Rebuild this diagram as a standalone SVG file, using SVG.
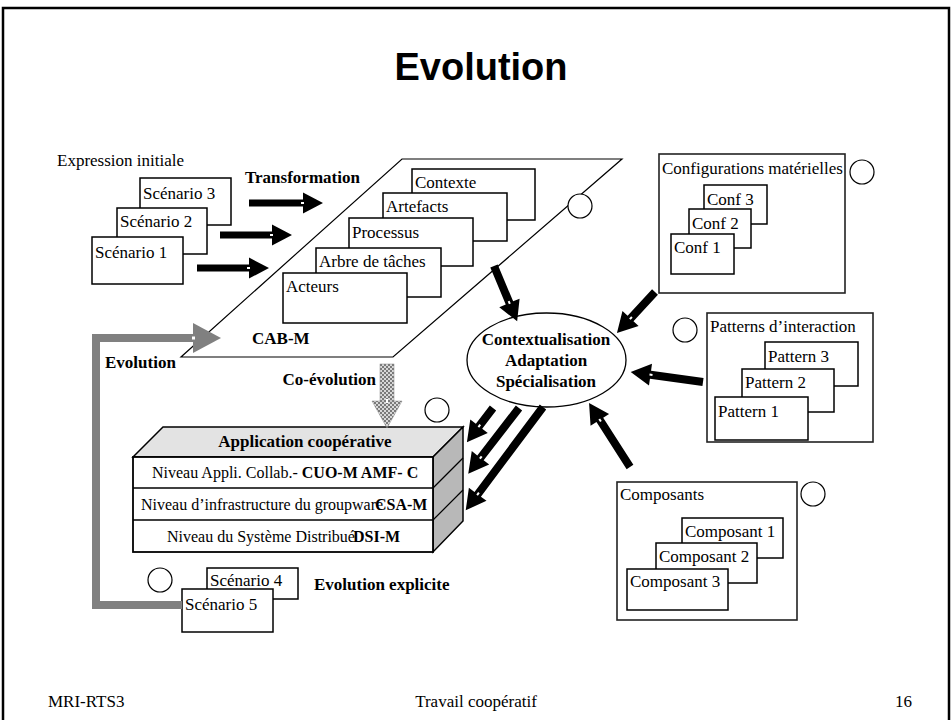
<svg xmlns="http://www.w3.org/2000/svg" width="952" height="720" viewBox="0 0 952 720">
<defs>
<style>
.t{font-family:"Liberation Serif","Times New Roman",serif;font-size:17px;fill:#000}
.b{font-weight:bold}
.s16{font-size:16px}
.box{fill:#fff;stroke:#000;stroke-width:1.5}
.obox{fill:#fff;stroke:#222;stroke-width:1.6}
.circ{fill:#fff;stroke:#000;stroke-width:1.2}
.arr{fill:#000}
.notch{fill:#fff}
</style>
<pattern id="chk" width="4" height="4" patternUnits="userSpaceOnUse">
<rect width="4" height="4" fill="#d8d8d8"/>
<rect x="0" y="0" width="2" height="2" fill="#7a7a7a"/>
<rect x="2" y="2" width="2" height="2" fill="#7a7a7a"/>
</pattern>
</defs>
<rect x="0" y="0" width="952" height="720" fill="#fff"/>
<rect x="3" y="8" width="946" height="740" fill="none" stroke="#000" stroke-width="2.5"/>
<text x="481" y="80" text-anchor="middle" font-family="Liberation Sans, Arial, sans-serif" font-weight="bold" font-size="38">Evolution</text>

<g id="expression">
<text class="t" x="57" y="166">Expression initiale</text>
<rect class="box" x="140" y="178" width="91" height="47"/>
<text class="t" x="143" y="199">Scénario 3</text>
<rect class="box" x="117" y="208" width="90" height="46"/>
<text class="t" x="120" y="227">Scénario 2</text>
<rect class="box" x="92" y="237" width="91" height="47"/>
<text class="t" x="95" y="258">Scénario 1</text>
</g>

<g id="cabm">
<polygon points="402,159 622,159 393,357 181,357" fill="#fff" stroke="#000" stroke-width="1.2"/>
<rect class="box" x="412" y="169" width="123" height="51"/>
<text class="t" x="415" y="188">Contexte</text>
<rect class="box" x="383" y="193" width="124" height="48"/>
<text class="t" x="386" y="212">Artefacts</text>
<rect class="box" x="349" y="218" width="124" height="48"/>
<text class="t" x="352" y="238">Processus</text>
<rect class="box" x="316" y="248" width="125" height="49"/>
<text class="t" x="319" y="267">Arbre de tâches</text>
<rect class="box" x="283" y="273" width="124" height="50"/>
<text class="t" x="286" y="292">Acteurs</text>
<circle class="circ" cx="580" cy="206" r="12"/>
<text class="t b" x="252" y="344" font-size="20">CAB-M</text>
</g>

<g id="config">
<rect class="obox" x="659" y="154" width="186" height="139"/>
<text class="t" x="662" y="174">Configurations matérielles</text>
<circle class="circ" cx="862" cy="172" r="12"/>
<rect class="box" x="704" y="185" width="63" height="39"/>
<text class="t" x="707" y="205">Conf 3</text>
<rect class="box" x="689" y="209" width="62" height="39"/>
<text class="t" x="692" y="229">Conf 2</text>
<rect class="box" x="671" y="234" width="63" height="40"/>
<text class="t" x="674" y="253">Conf 1</text>
</g>

<g id="patterns">
<rect class="obox" x="707" y="313" width="166" height="129"/>
<text class="t" x="710" y="332">Patterns d’interaction</text>
<circle class="circ" cx="685" cy="330" r="12"/>
<rect class="box" x="765" y="342" width="93" height="44"/>
<text class="t" x="768" y="362">Pattern 3</text>
<rect class="box" x="742" y="369" width="92" height="43"/>
<text class="t" x="745" y="388">Pattern 2</text>
<rect class="box" x="715" y="397" width="93" height="43"/>
<text class="t" x="718" y="417">Pattern 1</text>
</g>

<g id="composants">
<rect class="obox" x="617" y="482" width="180" height="138"/>
<text class="t" x="620" y="500">Composants</text>
<circle class="circ" cx="813" cy="494" r="12"/>
<rect class="box" x="682" y="518" width="101" height="40"/>
<text class="t" x="685" y="537">Composant 1</text>
<rect class="box" x="656" y="543" width="101" height="40"/>
<text class="t" x="659" y="562">Composant 2</text>
<rect class="box" x="627" y="569" width="101" height="41"/>
<text class="t" x="630" y="587">Composant 3</text>
</g>

<g id="ellipse">
<ellipse cx="546.5" cy="360" rx="79.5" ry="47" fill="#fff" stroke="#000" stroke-width="1.3"/>
<text class="t b" x="546" y="345" text-anchor="middle">Contextualisation</text>
<text class="t b" x="546" y="366" text-anchor="middle">Adaptation</text>
<text class="t b" x="546" y="387" text-anchor="middle">Spécialisation</text>
</g>

<g id="application">
<polygon points="133,457 163,427 463,427 433,457" fill="#e3e3e3" stroke="#000" stroke-width="1.5"/>
<polygon points="433,457 463,427 463,521 433,552" fill="#b8b8b8" stroke="#000" stroke-width="1.5"/>
<line x1="433" y1="488" x2="463" y2="458" stroke="#000" stroke-width="1.2"/>
<line x1="433" y1="520" x2="463" y2="490" stroke="#000" stroke-width="1.2"/>
<rect x="133" y="457" width="300" height="95" fill="#fff" stroke="#000" stroke-width="1.8"/>
<line x1="133" y1="488" x2="433" y2="488" stroke="#000" stroke-width="1.5"/>
<line x1="133" y1="520" x2="433" y2="520" stroke="#000" stroke-width="1.5"/>
<text class="t b" x="305" y="447" text-anchor="middle">Application coopérative</text>
<text class="t s16" x="152" y="478">Niveau Appli. Collab.- <tspan class="b">CUO-M AMF- C</tspan></text>
<text class="t s16" x="141" y="510">Niveau d’infrastructure du groupware<tspan class="b" x="375">CSA-M</tspan></text>
<text class="t s16" x="167" y="542">Niveau du Système Distribué<tspan class="b" x="353">DSI-M</tspan></text>
<circle class="circ" cx="437" cy="410" r="12"/>
</g>

<g id="explicite">
<circle class="circ" cx="160" cy="580" r="12"/>
<rect class="box" x="207" y="568" width="91" height="31"/>
<text class="t" x="210" y="586">Scénario 4</text>
<rect class="box" x="182" y="589" width="91" height="43"/>
<text class="t" x="185" y="610">Scénario 5</text>
<text class="t b" x="314" y="590">Evolution explicite</text>
</g>

<g id="connectors">
<g transform="translate(249,203)"><polygon class="arr" points="0,-3.5 54,-3.5 54,-10.5 74,0 54,10.5 54,3.5 0,3.5"/><rect class="notch" x="52" y="-1" width="3" height="2"/></g>
<g transform="translate(220,235)"><polygon class="arr" points="0,-3.5 52,-3.5 52,-10.5 72,0 52,10.5 52,3.5 0,3.5"/><rect class="notch" x="50" y="-1" width="3" height="2"/></g>
<g transform="translate(197,268)"><polygon class="arr" points="0,-3.5 52,-3.5 52,-10.5 72,0 52,10.5 52,3.5 0,3.5"/><rect class="notch" x="50" y="-1" width="3" height="2"/></g>
<text class="t b" x="245" y="183">Transformation</text>
<g transform="translate(494,266) rotate(67.3)"><polygon class="arr" points="0,-4 40,-4 40,-11 60,0 40,11 40,4 0,4"/><rect class="notch" x="38" y="-1" width="3" height="2"/></g>
<g transform="translate(655,292) rotate(132.8)"><polygon class="arr" points="0,-4 36,-4 36,-11 56,0 36,11 36,4 0,4"/><rect class="notch" x="34" y="-1" width="3" height="2"/></g>
<g transform="translate(703,382) rotate(187.9)"><polygon class="arr" points="0,-4 53,-4 53,-11 73,0 53,11 53,4 0,4"/><rect class="notch" x="51" y="-1" width="3" height="2"/></g>
<g transform="translate(630,467) rotate(-122.6)"><polygon class="arr" points="0,-4 56,-4 56,-11 76,0 56,11 56,4 0,4"/><rect class="notch" x="54" y="-1" width="3" height="2"/></g>
<g transform="translate(493,408) rotate(127.4)"><polygon class="arr" points="0,-4 23,-4 23,-11 43,0 23,11 23,4 0,4"/><rect class="notch" x="21" y="-1" width="3" height="2"/></g>
<g transform="translate(519,408) rotate(127.7)"><polygon class="arr" points="0,-4 63,-4 63,-11 83,0 63,11 63,4 0,4"/><rect class="notch" x="61" y="-1" width="3" height="2"/></g>
<g transform="translate(543,407) rotate(126.8)"><polygon class="arr" points="0,-4 109,-4 109,-11 129,0 109,11 109,4 0,4"/><rect class="notch" x="107" y="-1" width="3" height="2"/></g>
<polyline points="182,605 96,605 96,338 194,338" fill="none" stroke="#808080" stroke-width="8"/>
<polygon points="193,323 221,338 193,353" fill="#808080"/>
<rect class="notch" x="192" y="336.5" width="3" height="3"/>
<text class="t b" x="105" y="368">Evolution</text>
<rect x="380" y="364" width="14" height="38" fill="url(#chk)" stroke="#888" stroke-width="0.5"/>
<polygon points="372,401 402,401 387,428" fill="url(#chk)" stroke="#888" stroke-width="0.5"/>
<rect class="notch" x="386" y="399" width="2" height="4"/>
<text class="t b" x="376" y="385" text-anchor="end">Co-évolution</text>
</g>

<g id="footer">
<text class="t" x="48" y="707" font-size="19">MRI-RTS3</text>
<text class="t" x="476" y="707" font-size="19" text-anchor="middle">Travail coopératif</text>
<text class="t" x="912" y="707" font-size="19" text-anchor="end">16</text>
</g>
</svg>
